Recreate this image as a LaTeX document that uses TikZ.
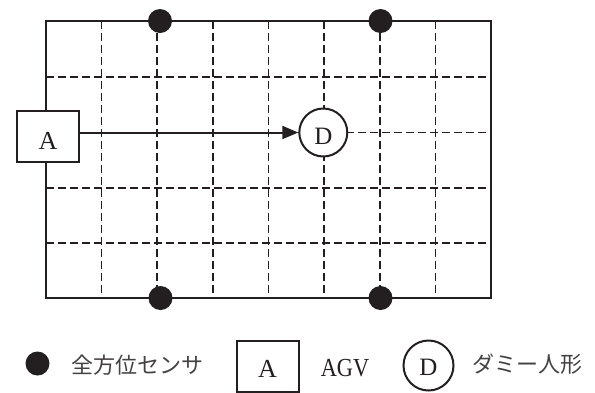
\documentclass[tikz,border=0pt]{standalone}
\usepackage{fontspec}
\setmainfont{Liberation Serif}
\newfontfamily\jpfont{Noto Sans CJK JP}
\newfontfamily\narrowserif[FakeStretch=0.86]{Liberation Serif}
\usetikzlibrary{arrows.meta}
\definecolor{ink}{RGB}{35,31,32}
\begin{document}
\begin{tikzpicture}[x=1pt,y=-1pt,
  gridline/.style={line width=1.6pt, dash pattern=on 7.5pt off 4.5pt, ink},
  frame/.style={line width=2pt, ink},
  sensor/.style={circle, fill=ink, minimum size=24pt, inner sep=0pt},
  agv/.style={draw=ink, line width=2pt, fill=white, minimum width=62pt, minimum height=51pt, inner sep=0pt, text=ink, font=\fontsize{26}{28}\selectfont, text height=26pt, text depth=0pt},
  dummy/.style={circle, draw=ink, line width=2pt, fill=white, minimum size=48pt, inner sep=0pt, text=ink, font=\fontsize{25}{27}\selectfont, text height=24pt, text depth=0pt},
  lbl/.style={font=\fontsize{22}{24}\selectfont\jpfont, text=ink!85, inner sep=0pt},
  lat/.style={font=\fontsize{26}{28}\selectfont\narrowserif, text=ink, inner sep=0pt}]
\useasboundingbox (0,0) rectangle (595,392);
\foreach \i in {1,...,7} \draw[gridline] ({46+55.625*\i},21) -- ({46+55.625*\i},298);
\foreach \j in {1,...,4} \draw[gridline] (46,{21.5+55.4*\j}) -- (491,{21.5+55.4*\j});
\draw[frame] (46,21) rectangle (491,298);
% sensors
\node[sensor] (s1) at (160,21) {};
\node[sensor] (s2) at (380.5,21) {};
\node[sensor] (s3) at (160.5,298) {};
\node[sensor] (s4) at (380.5,298) {};
% AGV and dummy
\node[agv] (A) at (48,136) {A};
\node[dummy] (D) at (323.3,132.5) {D};
\draw[line width=2pt, ink, -{Triangle[length=16pt,width=13pt]}] (A.east |- D.west) -- (D.west);
% legend
\node[sensor] (ls) at (37.5,363.5) {};
\node[lbl] (lst) at (137.5,365) {全方位センサ};
\node[agv, text height=22pt] (la) at (267.5,366.5) {A};
\node[lat] (lat) at (345,368.5) {AGV};
\node[dummy, minimum size=50pt, text height=20pt] (ld) at (428.5,365.5) {D};
\node[lbl] (ldt) at (527.5,364) {ダミー人形};
\end{tikzpicture}
\end{document}
